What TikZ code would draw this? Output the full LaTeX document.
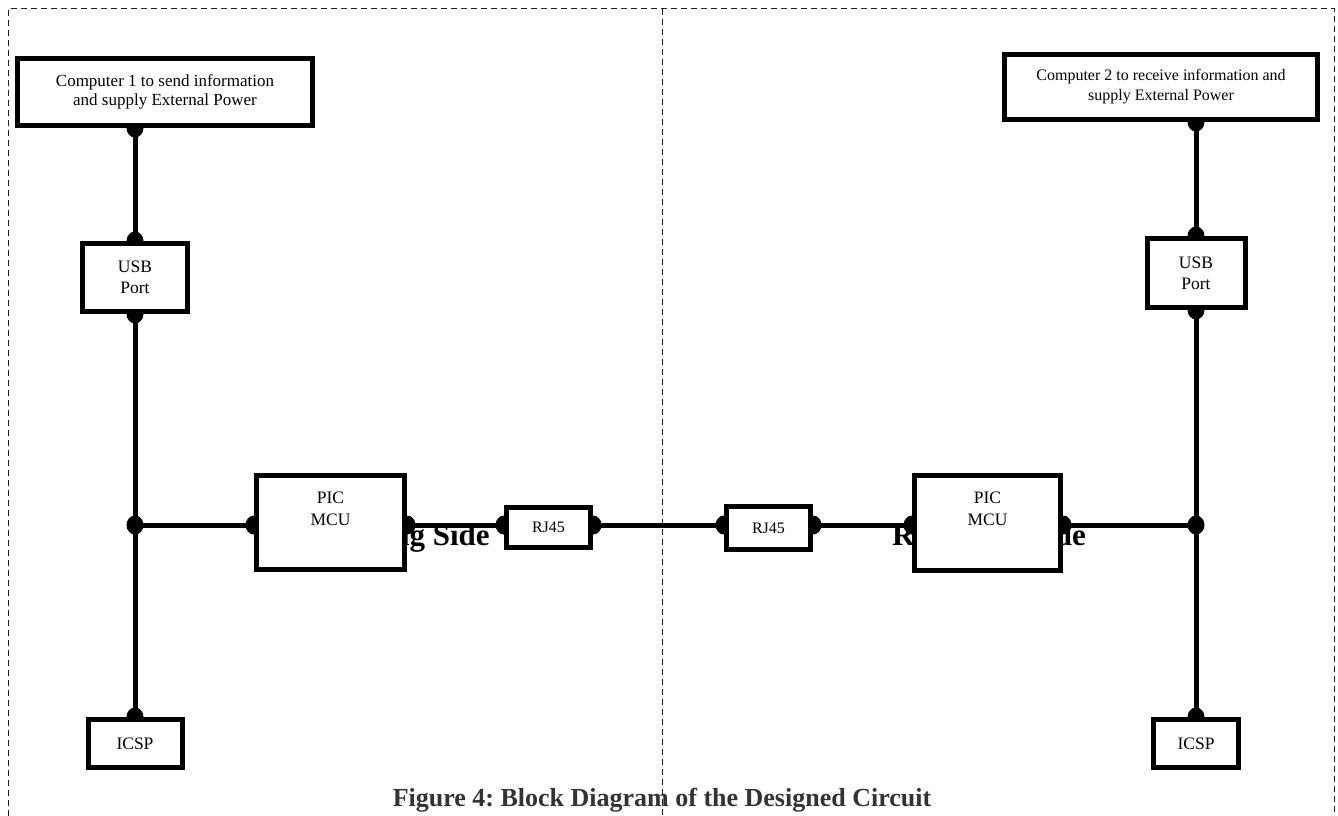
\documentclass[tikz,border=0pt]{standalone}
\usepackage{fontspec}
\setmainfont{Liberation Serif}
\usepackage{xcolor}
\usetikzlibrary{backgrounds}
\frenchspacing
\definecolor{ink}{HTML}{000000}
\definecolor{caption}{HTML}{333333}
\definecolor{rule}{HTML}{1E1E1E}
\tikzset{
  blk/.style={draw=ink, fill=white, line width=5pt, inner sep=0pt, align=center, font=\fontsize{17.5}{21}\selectfont},
  blks/.style={blk, font=\fontsize{16}{20}\selectfont},
  wire/.style={draw=ink, line width=5pt},
  pin/.style={fill=ink},
  tx/.style={inner sep=0pt, align=center, font=\fontsize{17.5}{22}\selectfont, text=ink},
  side/.style={inner sep=0pt, anchor=base west, font=\fontsize{31}{36}\selectfont\bfseries, text=ink},
  capt/.style={inner sep=0pt, anchor=base, font=\fontsize{26}{30}\selectfont\bfseries, text=caption},
  frame/.style={draw=rule, line width=1pt, dash pattern=on 6pt off 4pt},
}
\begin{document}
\begin{tikzpicture}[x=1pt, y=-1pt]
  \useasboundingbox (0,0) rectangle (1338,816);

  % sending side
  \node[blk, minimum width=295, minimum height=67, font=\fontsize{17}{19}\selectfont] (compL) at (165,92) {Computer 1 to send information\\and supply External Power};
  \node[blk, minimum width=105, minimum height=68] (usbL) at (135,277.5) {USB\\Port};
  \node[blk, minimum width=148, minimum height=94] (picL) at (330.5,522.5) {};
  \node[tx] (picLt) at (330.5,509) {PIC\\MCU};
  \node[blks, minimum width=84, minimum height=40] (rjL) at (548.5,527.5) {RJ45};
  \node[blk, minimum width=94, minimum height=48] (icspL) at (135,743.5) {ICSP};

  % receiving side
  \node[blks, minimum width=313, minimum height=65] (compR) at (1161,87) {Computer 2 to receive information and\\supply External Power};
  \node[blk, minimum width=98, minimum height=69] (usbR) at (1196,273) {USB\\Port};
  \node[blk, minimum width=146, minimum height=95] (picR) at (987.5,523) {};
  \node[tx] (picRt) at (987.5,509) {PIC\\MCU};
  \node[blks, minimum width=84, minimum height=43] (rjR) at (768.5,528) {RJ45};
  \node[blk, minimum width=85, minimum height=48] (icspR) at (1196,743.5) {ICSP};

  \coordinate (jL) at (135,525);
  \coordinate (jR) at (1196,525);
  \coordinate (cL) at (usbL.north |- compL.south);
  \coordinate (cR) at (usbR.north |- compR.south);
  \coordinate (pLw) at (picL.west |- jL);
  \coordinate (pLe) at (picL.east |- jL);
  \coordinate (rLw) at (rjL.west |- jL);
  \coordinate (rLe) at (rjL.east |- jL);
  \coordinate (rRw) at (rjR.west |- jL);
  \coordinate (rRe) at (rjR.east |- jL);
  \coordinate (pRw) at (picR.west |- jL);
  \coordinate (pRe) at (picR.east |- jL);

  \begin{pgfonlayer}{background}
    \node[side] (sendL) at (318,545) {Sending Side};
    \node[side] (recvL) at (892,545) {Receiving Side};
    \node[capt] (figcap) at (662,806) {Figure 4: Block Diagram of the Designed Circuit};

    \draw[frame] (8,816) -- (8,9) -- (1334,9) -- (1334,816);
    \draw[frame] (662,9) -- (662,816);

    \draw[wire] (cL) -- (usbL.north);
    \draw[wire] (usbL.south) -- (icspL.north);
    \draw[wire] (jL) -- (pLw);
    \draw[wire] (pLe) -- (rLw);
    \draw[wire] (rLe) -- (rRw);
    \draw[wire] (rRe) -- (pRw);
    \draw[wire] (pRe) -- (jR);
    \draw[wire] (cR) -- (usbR.north);
    \draw[wire] (usbR.south) -- (icspR.north);

    \foreach \p in {cL, usbL.north, usbL.south, jL, icspL.north, pLw, pLe, rLw, rLe,
                    rRw, rRe, pRw, pRe, jR, cR, usbR.north, usbR.south, icspR.north}
      \fill[pin] (\p) ellipse [x radius=8.5pt, y radius=9.5pt];
  \end{pgfonlayer}
\end{tikzpicture}
\end{document}
